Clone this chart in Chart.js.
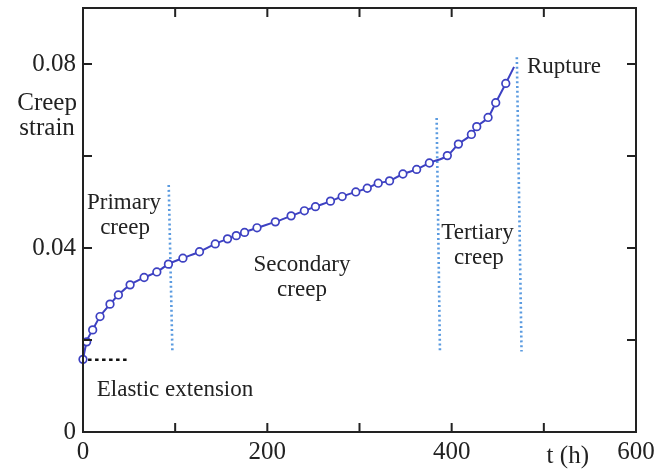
<!DOCTYPE html>
<html>
<head>
<meta charset="utf-8">
<script src="https://cdn.jsdelivr.net/npm/chart.js@4/dist/chart.umd.min.js"></script>
<style>
  body { margin: 0; background: #fff; }
</style>
</head>
<body>
<canvas id="graf" width="662" height="469"></canvas>
<script>
// creep curve (t in hours, strain)
let horas = [0, 4, 10.5, 18.5, 29.3, 38.4, 51.1, 66.3, 80.1, 92.7, 108.4, 126.4, 143.5, 156.8, 166.3, 175.3, 188.8, 208.7, 225.8, 240.2, 252.2, 268.5, 281.2, 296, 308.4, 320.3, 332.6, 347.1, 362, 375.8, 395.3, 407.3, 421.4, 427.2, 439.5, 447.8, 458.7]
let deformacao = [0.0158, 0.0196, 0.0222, 0.0251, 0.0278, 0.0298, 0.0320, 0.0336, 0.0348, 0.0365, 0.0378, 0.0392, 0.0409, 0.0420, 0.0427, 0.0434, 0.0444, 0.0457, 0.0470, 0.0481, 0.0490, 0.0502, 0.0512, 0.0522, 0.0530, 0.0541, 0.0546, 0.0561, 0.0571, 0.0585, 0.0601, 0.0626, 0.0647, 0.0664, 0.0684, 0.0716, 0.0758]
let ruptura = [467.7, 0.0794]

// stage boundaries (dotted blue) : [t top, strain top, t bottom, strain bottom]
let limites = [
    [93, 0.0537, 97, 0.0174],
    [383.7, 0.0683, 387.3, 0.0175],
    [470.7, 0.0815, 475.8, 0.0175]
]
let elastica = [[5.5, 0.0157], [47.5, 0.0157]]

let xTicks = [0, 200, 400, 600]
let yTicks = [0, 0.04, 0.08]

// text labels: [text, t, strain, size]
let textos = [
    ['Creep', -39, 0.0715, 25],
    ['strain', -39, 0.0661, 25],
    ['Primary', 44.5, 0.0498, 23],
    ['creep', 45.6, 0.0443, 23],
    ['Secondary', 237.6, 0.0363, 23],
    ['creep', 237.6, 0.0309, 23],
    ['Tertiary', 428, 0.0433, 23],
    ['creep', 429.6, 0.0378, 23],
    ['Rupture', 521.9, 0.0793, 23],
    ['Elastic extension', 99.8, 0.0091, 23],
    ['t (h)', 526, -0.0054, 25]
]

const FONTE = '"Liberation Serif", "Times New Roman", serif'

let pontos = []
for (let i = 0; i < horas.length; i++) {
    pontos.push({ x: horas[i], y: deformacao[i] })
}
pontos.push({ x: ruptura[0], y: ruptura[1] })

let datasets = [{
    data: pontos,
    borderColor: '#3d41c2',
    backgroundColor: '#fff',
    borderWidth: 2,
    pointRadius: ctx => ctx.dataIndex === pontos.length - 1 ? 0 : 3.8,
    pointBorderWidth: 1.7,
    pointBackgroundColor: '#fff',
    pointBorderColor: '#3d41c2',
    cubicInterpolationMode: 'monotone',
    clip: false,
    order: 0
}]

for (let i = 0; i < limites.length; i++) {
    let l = limites[i]
    datasets.push({
        data: [{ x: l[0], y: l[1] }, { x: l[2], y: l[3] }],
        borderColor: '#5b9be0',
        borderWidth: 2.6,
        borderDash: [2, 2.8],
        pointRadius: 0,
        order: 1
    })
}

datasets.push({
    data: elastica.map(p => ({ x: p[0], y: p[1] })),
    borderColor: '#111',
    borderWidth: 2.6,
    borderDash: [3.5, 3.5],
    pointRadius: 0,
    order: 1
})

const moldura = {
    id: 'moldura',
    afterDraw(chart) {
        let c = chart.ctx
        let a = chart.chartArea
        let sx = chart.scales.x
        let sy = chart.scales.y
        c.save()
        c.strokeStyle = '#222'
        c.lineWidth = 2
        c.strokeRect(a.left, a.top, a.right - a.left, a.bottom - a.top)
        c.beginPath()
        for (let v = 100; v < 600; v += 100) {
            let px = sx.getPixelForValue(v)
            c.moveTo(px, a.bottom); c.lineTo(px, a.bottom - 9)
            c.moveTo(px, a.top); c.lineTo(px, a.top + 9)
        }
        for (let v = 0.02; v < 0.09; v += 0.02) {
            let py = sy.getPixelForValue(v)
            c.moveTo(a.left, py); c.lineTo(a.left + 9, py)
            c.moveTo(a.right, py); c.lineTo(a.right - 9, py)
        }
        c.stroke()

        c.fillStyle = '#222'
        c.textAlign = 'center'
        c.textBaseline = 'middle'
        for (let i = 0; i < textos.length; i++) {
            let t = textos[i]
            c.font = t[3] + 'px ' + FONTE
            c.fillText(t[0], sx.getPixelForValue(t[1]), sy.getPixelForValue(t[2]))
        }
        c.restore()
    }
}

let ctx = document.getElementById('graf').getContext('2d')

let meuGrafico = new Chart(ctx, {
    type: 'line',
    data: { datasets: datasets },
    options: {
        responsive: false,
        animation: false,
        devicePixelRatio: 1,
        layout: { padding: { top: 8, right: 26, left: 0, bottom: 0 } },
        plugins: {
            legend: { display: false },
            tooltip: { enabled: false }
        },
        scales: {
            x: {
                type: 'linear',
                min: 0,
                max: 600,
                grid: { display: false, drawTicks: false },
                border: { display: false },
                ticks: {
                    stepSize: 100,
                    autoSkip: false,
                    maxRotation: 0,
                    padding: 5,
                    color: '#222',
                    font: { size: 25, family: FONTE },
                    callback: v => xTicks.includes(v) ? String(v) : ''
                },
                afterFit: s => { s.height = 37 }
            },
            y: {
                min: 0,
                max: 0.0922,
                grid: { display: false, drawTicks: false },
                border: { display: false },
                ticks: {
                    stepSize: 0.02,
                    autoSkip: false,
                    padding: 7,
                    color: '#222',
                    font: { size: 25, family: FONTE },
                    callback: v => {
                        for (let i = 0; i < yTicks.length; i++) {
                            if (Math.abs(v - yTicks[i]) < 1e-6) return v === 0 ? '0' : yTicks[i].toFixed(2)
                        }
                        return ''
                    }
                },
                afterBuildTicks: s => { s.ticks = s.ticks.filter(t => t.value <= 0.0801) },
                afterFit: s => {
                    s.width = 83
                    s.paddingTop = 0
                    s.paddingBottom = 0
                }
            }
        }
    },
    plugins: [moldura]
})
</script>
</body>
</html>
